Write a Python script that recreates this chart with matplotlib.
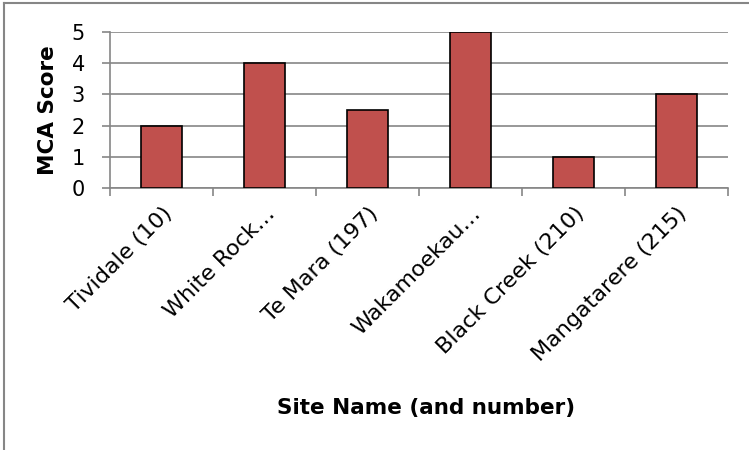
import matplotlib.pyplot as plt
from matplotlib.lines import Line2D

sites = ["Tividale (10)", "White Rock\u2026", "Te Mara (197)",
         "Wakamoekau\u2026", "Black Creek (210)", "Mangatarere (215)"]
scores = [2, 4, 2.5, 5, 1, 3]
y_ticks = [0, 1, 2, 3, 4, 5]

plt.rcParams['font.family'] = ['DejaVu Sans']

fig = plt.figure(figsize=(7.49, 4.5), dpi=100)
ax = fig.add_axes([0.147, 0.582, 0.825, 0.347])

x = list(range(len(sites)))
ax.bar(x, scores, width=0.4, color="#c0504d", edgecolor="black", linewidth=1.2, zorder=3)

ax.set_xlim(-0.5, len(sites) - 0.5)
ax.set_ylim(0, 5)
ax.set_yticks(y_ticks)
ax.set_yticklabels([str(v) for v in y_ticks], fontsize=15)
ax.yaxis.grid(True, color="#868686", linewidth=1.2, zorder=0)

ax.set_xticks(x)
ax.set_xticklabels(sites, rotation=45, ha="right", rotation_mode="anchor", fontsize=16)
ax.set_xticks([i - 0.5 for i in range(len(sites) + 1)], minor=True)
ax.tick_params(axis="x", which="major", length=0, pad=11)
ax.tick_params(axis="x", which="minor", length=6, color="#868686", width=1.2)
ax.tick_params(axis="y", length=6, color="#868686", width=1.2, pad=12)

for side in ["top", "right"]:
    ax.spines[side].set_visible(False)
for side in ["left", "bottom"]:
    ax.spines[side].set_color("#868686")
    ax.spines[side].set_linewidth(1.2)

ax.set_ylabel("MCA Score", fontsize=15.5, fontweight="bold", labelpad=10)
fig.text(0.569, 0.093, "Site Name (and number)", fontsize=15.5, fontweight="bold", ha="center", va="center")

# chart area border (only top and left edges visible in the crop)
fig.add_artist(Line2D([0.0053, 0.0053], [0, 0.9933], color="#868686", linewidth=1.5))
fig.add_artist(Line2D([0.0053, 1], [0.9933, 0.9933], color="#868686", linewidth=1.5))

fig.savefig("out.png", dpi=100)
